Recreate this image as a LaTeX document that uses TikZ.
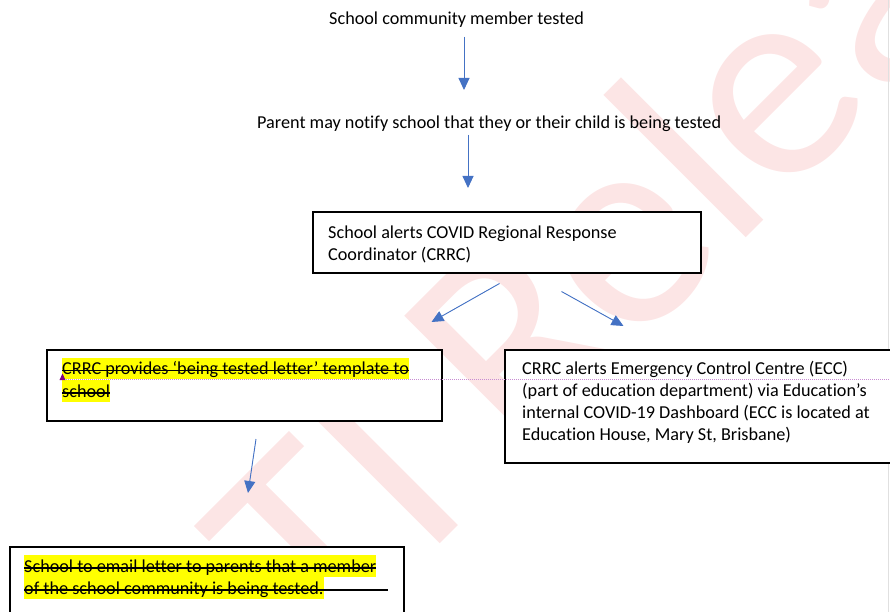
\documentclass[tikz,border=0pt]{standalone}
\usepackage{fontspec}
\setmainfont{Carlito}[Ligatures={NoCommon}]
\usetikzlibrary{arrows.meta,calc}
\definecolor{wmred}{RGB}{252,229,229}
\definecolor{arrowblue}{RGB}{68,114,196}
\definecolor{hlyellow}{RGB}{255,255,0}
\definecolor{cmtline}{RGB}{200,140,210}
\definecolor{cmtmark}{RGB}{128,0,128}
\begin{document}
\begin{tikzpicture}[x=1pt,y=-1pt,
  every node/.style={inner sep=0pt, font=\fontsize{18.2}{22}\selectfont},
  flowarrow/.style={draw=arrowblue, line width=0.9pt, -{Triangle[length=12pt,width=11pt]}, fill=arrowblue},
  flowbox/.style={draw=black, fill=white, line width=1.1pt},
  txt/.style={anchor=base west, align=left},
  hltxt/.style={anchor=base west, fill=hlyellow, text height=17pt, text depth=4.5pt},
  strike/.style={draw=black, line width=1.4pt}
]
\useasboundingbox (0,0) rectangle (890,612);
\begin{scope}
\clip (0,0) rectangle (890,612);
% watermark
\node[anchor=base west, rotate=45, text=wmred, font=\fontsize{290}{290}\selectfont] (wmark) at (214,770) {RTI Release};
% page edge
\draw[black!12, line width=0.8pt] (888.5,0) -- (888.5,612);

% free texts
\node[txt] (n1) at (329,25) {School community member tested};
\node[txt] (n2) at (257,128.3) {Parent may notify school that they or their child is being tested};

% boxes
\node[flowbox, minimum width=388pt, minimum height=61pt] (b1) at (507,242.5) {};
\node[flowbox, minimum width=395pt, minimum height=71pt] (b2) at (244.5,385.5) {};
\node[flowbox, minimum width=400pt, minimum height=113pt] (b3) at (705,406.5) {};
\node[flowbox, minimum width=394pt, minimum height=80pt] (b4) at (207,587) {};

% box texts (base anchor = baseline of last line)
\node[txt] (t1) at (328,260.5) {School alerts COVID Regional Response\\Coordinator (CRRC)};
\node[txt] (t3) at (522,440.5) {CRRC alerts Emergency Control Centre (ECC)\\(part of education department) via Education’s\\internal COVID-19 Dashboard (ECC is located at\\Education House, Mary St, Brisbane)};

\node[hltxt] (s1) at (62,374.5) {CRRC provides ‘being tested letter’ template to};
\node[hltxt] (s2) at (62,397) {school};
\node[hltxt] (s3) at (24,572) {School to email letter to parents that a member};
\node[hltxt] (s4) at (24,594) {of the school community is being tested.};
\draw[strike] ($(s1.base west)+(0,-4)$) -- ($(s1.base east)+(0,-4)$);
\draw[strike] ($(s2.base west)+(0,-4)$) -- ($(s2.base east)+(0,-4)$);
\draw[strike] ($(s3.base west)+(0,-4)$) -- ($(s3.base east)+(0,-4)$);
\draw[strike] ($(s4.base west)+(0,-4)$) -- ($(s4.base east)+(64,-4)$);

% comment anchor line
\coordinate (cm1) at (62,379);
\coordinate (cm2) at (890,379);
\draw[cmtline, line width=0.8pt, dash pattern=on 1pt off 1pt] (cm1) -- (cm2);
\fill[cmtmark] (59.5,380) -- (65.5,380) -- (62.5,373.5) -- cycle;

% arrows
\coordinate (a1s) at (464,37);   \coordinate (a1e) at (464,90);
\coordinate (a2s) at (468,135);  \coordinate (a2e) at (468,188);
\coordinate (a3s) at (499.5,283.5); \coordinate (a3e) at (431.5,322);
\coordinate (a4s) at (561.5,291.5); \coordinate (a4e) at (623.5,326);
\coordinate (a5s) at (256,439);  \coordinate (a5e) at (248,493);
\draw[flowarrow] (a1s) -- (a1e);
\draw[flowarrow] (a2s) -- (a2e);
\draw[flowarrow] (a3s) -- (a3e);
\draw[flowarrow] (a4s) -- (a4e);
\draw[flowarrow] (a5s) -- (a5e);
\end{scope}
\end{tikzpicture}
\end{document}
